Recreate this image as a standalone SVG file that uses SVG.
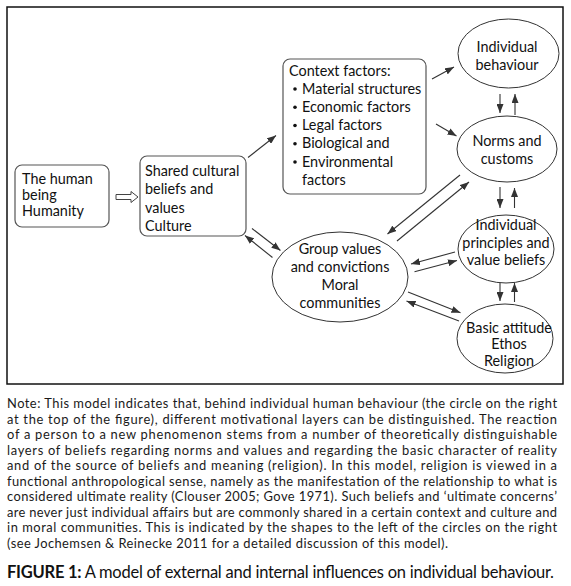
<svg xmlns="http://www.w3.org/2000/svg" width="571" height="586" viewBox="0 0 571 586">
<style>
.t{font-family:Lato,"Open Sans","DejaVu Sans",sans-serif;font-size:14.4px;fill:#111}
.c{text-anchor:middle}
.box{fill:#fff;stroke:#555;stroke-width:1.2}
.ell{fill:#fff;stroke:#333;stroke-width:1}
.ln{stroke:#333;stroke-width:1.1;fill:none;marker-end:url(#ah)}
.n{font-family:Lato,"Open Sans","DejaVu Sans",sans-serif;font-size:12.9px;fill:#1a1a1a}
.cap{font-family:Lato,"Open Sans","DejaVu Sans",sans-serif;font-size:16.5px;fill:#111}
</style>
<defs>
<marker id="ah" markerUnits="userSpaceOnUse" markerWidth="9" markerHeight="7" refX="9" refY="3.5" orient="auto">
<path d="M0,0 L9,3.5 L0,7 z" fill="#333"/>
</marker>
</defs>
<rect width="571" height="586" fill="#fff"/>
<rect id="frame" x="7" y="7" width="556" height="377" fill="none" stroke="#111" stroke-width="1.5"/>

<g id="human">
<rect class="box" x="15" y="165" width="94" height="62" rx="7"/>
<text class="t" x="22" y="184">The human</text>
<text class="t" x="22" y="200">being</text>
<text class="t" x="22" y="216">Humanity</text>
</g>
<g id="shared">
<rect class="box" x="140" y="156" width="106" height="80" rx="7"/>
<text class="t" x="145" y="176">Shared cultural</text>
<text class="t" x="145" y="194">beliefs and</text>
<text class="t" x="145" y="212.5">values</text>
<text class="t" x="145" y="230.5">Culture</text>
</g>
<g id="context">
<rect class="box" x="283" y="59" width="143" height="135" rx="7"/>
<text class="t" x="289" y="75.5">Context factors:</text>
<g fill="#111">
<circle cx="295" cy="89" r="1.8"/><circle cx="295" cy="107.2" r="1.8"/><circle cx="295" cy="125.5" r="1.8"/><circle cx="295" cy="143.7" r="1.8"/><circle cx="295" cy="162" r="1.8"/>
</g>
<text class="t" x="302" y="93.5">Material structures</text>
<text class="t" x="302" y="111.7">Economic factors</text>
<text class="t" x="302" y="130">Legal factors</text>
<text class="t" x="302" y="148.2">Biological and</text>
<text class="t" x="302" y="166.5">Environmental</text>
<text class="t" x="302" y="184.7">factors</text>
</g>
<g id="behaviour">
<ellipse class="ell" cx="508.5" cy="53.5" rx="50.5" ry="34.5"/>
<text class="t c" x="507" y="51.5">Individual</text>
<text class="t c" x="507" y="70">behaviour</text>
</g>
<g id="norms">
<ellipse class="ell" cx="507" cy="149" rx="50" ry="33"/>
<text class="t c" x="507" y="146">Norms and</text>
<text class="t c" x="507" y="164">customs</text>
</g>
<g id="principles">
<ellipse class="ell" cx="506" cy="249" rx="48" ry="34"/>
<text class="t c" x="506" y="230">Individual</text>
<text class="t c" x="506" y="247.7">principles and</text>
<text class="t c" x="506" y="265">value beliefs</text>
</g>
<g id="basic">
<ellipse class="ell" cx="505" cy="338.5" rx="48" ry="34.5"/>
<text class="t c" x="509" y="333">Basic attitude</text>
<text class="t c" x="509" y="349.3">Ethos</text>
<text class="t c" x="509" y="365.6">Religion</text>
</g>
<g id="group">
<ellipse class="ell" cx="340" cy="277" rx="68" ry="45"/>
<text class="t c" x="340" y="254">Group values</text>
<text class="t c" x="340" y="272">and convictions</text>
<text class="t c" x="340" y="290">Moral</text>
<text class="t c" x="340" y="308">communities</text>
</g>

<g id="connectors">
<polygon points="116,194.5 131,194.5 131,191.5 138,197 131,202.5 131,199.5 116,199.5" fill="#fff" stroke="#444" stroke-width="1"/>
<line class="ln" x1="248" y1="157.5" x2="276" y2="135.5"/>
<line class="ln" x1="432" y1="79" x2="454" y2="67"/>
<line class="ln" x1="436" y1="124" x2="456.5" y2="136"/>
<line class="ln" x1="500" y1="94" x2="500" y2="113"/>
<line class="ln" x1="515" y1="115" x2="515" y2="94"/>
<line class="ln" x1="500" y1="187" x2="500" y2="208"/>
<line class="ln" x1="514.5" y1="208" x2="514.5" y2="188"/>
<line class="ln" x1="500" y1="283" x2="500" y2="301"/>
<line class="ln" x1="514.5" y1="302" x2="514.5" y2="283"/>
<line class="ln" x1="252" y1="228.5" x2="280.5" y2="250.5"/>
<line class="ln" x1="272.5" y1="257.5" x2="245" y2="235.5"/>
<line class="ln" x1="460" y1="175" x2="387.5" y2="234"/>
<line class="ln" x1="397" y1="241" x2="469" y2="182"/>
<line class="ln" x1="455" y1="252" x2="411" y2="264"/>
<line class="ln" x1="414.5" y1="271.7" x2="457" y2="260.5"/>
<line class="ln" x1="408" y1="292" x2="460.5" y2="312.7"/>
<line class="ln" x1="459" y1="321" x2="406.5" y2="301"/>
</g>

<g id="note">
<text class="n" x="7" y="408" textLength="550" lengthAdjust="spacing">Note: This model indicates that, behind individual human behaviour (the circle on the right</text>
<text class="n" x="7" y="423.5" textLength="550" lengthAdjust="spacing">at the top of the figure), different motivational layers can be distinguished. The reaction</text>
<text class="n" x="7" y="439" textLength="550" lengthAdjust="spacing">of a person to a new phenomenon stems from a number of theoretically distinguishable</text>
<text class="n" x="7" y="454.5" textLength="550" lengthAdjust="spacing">layers of beliefs regarding norms and values and regarding the basic character of reality</text>
<text class="n" x="7" y="470" textLength="550" lengthAdjust="spacing">and of the source of beliefs and meaning (religion). In this model, religion is viewed in a</text>
<text class="n" x="7" y="485.5" textLength="550" lengthAdjust="spacing">functional anthropological sense, namely as the manifestation of the relationship to what is</text>
<text class="n" x="7" y="501" textLength="550" lengthAdjust="spacing">considered ultimate reality (Clouser 2005; Gove 1971). Such beliefs and ‘ultimate concerns’</text>
<text class="n" x="7" y="516.5" textLength="550" lengthAdjust="spacing">are never just individual affairs but are commonly shared in a certain context and culture and</text>
<text class="n" x="7" y="532" textLength="550" lengthAdjust="spacing">in moral communities. This is indicated by the shapes to the left of the circles on the right</text>
<text class="n" x="7" y="547.5" textLength="441" lengthAdjust="spacing">(see Jochemsen &amp; Reinecke 2011 for a detailed discussion of this model).</text>
</g>
<text id="caption" class="cap" x="7" y="578" textLength="547" lengthAdjust="spacing"><tspan font-weight="bold">FIGURE 1:</tspan> A model of external and internal influences on individual behaviour.</text>
</svg>
